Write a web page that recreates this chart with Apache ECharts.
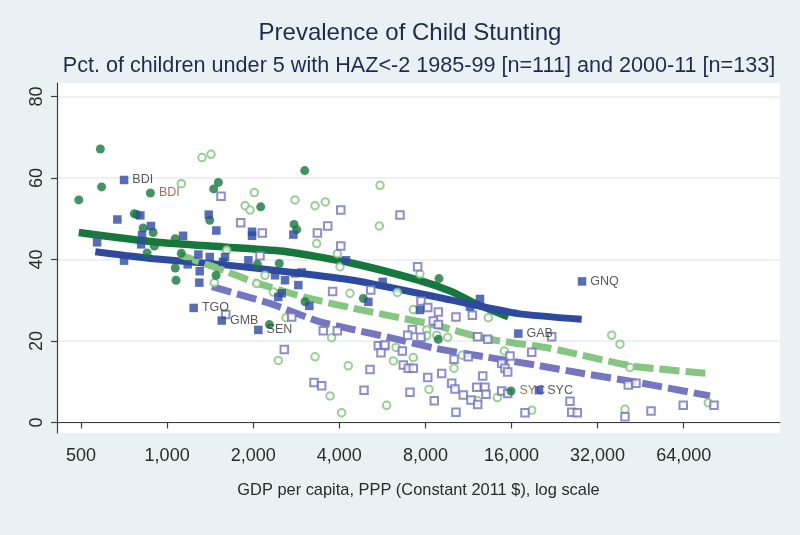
<!DOCTYPE html>
<html><head><meta charset="utf-8">
<script src="https://cdn.jsdelivr.net/npm/echarts@6/dist/echarts.min.js"></script>
<style>html,body{margin:0;padding:0;background:#eaf1f5}#c{width:800px;height:535px}</style>
</head><body><div id="c"></div>
<script>
const xTicks = [500,1000,2000,4000,8000,16000,32000,64000];
const yTicks = [0,20,40,60,80];

// Sub-Saharan Africa 1985-99 (filled dark green circles): [gdp, pct, label]
const ssa1985 = [[584,67.1],[590,57.8],[491,54.6],[874,56.3,'BDI'],[1511,58.9],[1455,57.3],[768,51.2],[784,51.0],[824,47.7],[893,46.6],[902,43.3],[851,41.6],[1068,45.1],[1121,41.5],[1068,37.9],[1074,34.9],[1409,49.6],[1483,36.1],[3027,61.8],[2124,52.9],[2778,48.6],[2838,47.3],[2467,39.0],[2277,24.0],[3035,29.6],[4854,30.4],[2068,38.8],[8926,35.3],[8875,20.4],[15935,7.7,'SYC']];

// Sub-Saharan Africa 2000-11 (filled dark blue squares)
const ssa2000 = [[707,59.5,'BDI'],[670,49.8],[569,44.2],[707,39.7],[806,50.8],[878,48.2],[817,46.0],[811,43.7],[1137,45.8],[1286,41.2],[1409,40.6],[1180,38.8],[1300,37.1],[1296,34.3],[1398,51.0],[1486,47.1],[1238,28.1,'TGO'],[1552,25.0,'GMB'],[1568,39.4],[1981,46.8],[1981,45.8],[2763,46.1],[1594,40.6],[1923,39.8],[2384,36.1],[2584,34.9],[2876,33.7],[2800,36.6],[2955,36.8],[2447,30.8],[2516,31.7],[3142,28.6],[4222,39.8],[2084,22.7,'SEN'],[5053,29.6],[5672,34.5],[7659,27.6],[11457,28.4],[12417,30.3],[16902,21.8,'GAB'],[19963,7.9,'SYC'],[28229,34.6,'GNQ']];

// Other countries 1985-99 (hollow light green circles)
const other1985 = [[1324,65.0],[1424,65.8],[1121,58.6],[2018,56.4],[1873,53.2],[1949,52.1],[2800,54.6],[3290,53.2],[3573,54.1],[5553,58.2],[5521,48.2],[3333,43.9],[3937,41.4],[4022,38.2],[4359,31.7],[3761,20.8],[2447,15.2],[3290,16.1],[4299,13.9],[3712,6.5],[4075,2.4],[5854,4.2],[2604,25.7],[2352,32.0],[2199,36.1],[2056,34.1],[1616,42.3],[7659,36.4],[7256,27.7],[6381,31.9],[8083,22.7],[8083,21.3],[8761,21.4],[9573,20.9],[6313,18.4],[7256,15.9],[6178,15.1],[10072,13.3],[8236,8.1],[13276,25.7],[15100,17.5],[14270,6.1],[12186,5.3],[18830,3.0],[10768,16.5],[35850,21.4],[38320,19.2],[41530,13.5],[39900,3.2],[78030,4.8],[1462,34.3]];

// Other countries 2000-11 (hollow purple squares)
const other2000 = [[1543,55.5],[1808,49.0],[2152,46.5],[3352,46.5],[3643,48.2],[4047,52.1],[4047,43.3],[3790,32.1],[5152,32.5],[2112,40.9],[2727,25.9],[3516,22.5],[3937,22.5],[2568,17.9],[3263,9.8],[3470,9.0],[5123,13.0],[4881,7.9],[5476,18.8],[5733,18.8],[5594,17.1],[1603,26.5],[6520,50.9],[7516,38.2],[7722,29.8],[8152,28.2],[8880,27.1],[10233,25.9],[11673,26.3],[8527,24.9],[8880,24.0],[7200,22.8],[6936,21.4],[7722,20.9],[5780,19.0],[6643,17.5],[6695,14.1],[6970,13.3],[7256,13.3],[10072,15.5],[11300,16.1],[12186,21.0],[13212,20.4],[8152,11.0],[9120,12.0],[12690,11.4],[9884,9.6],[10152,8.2],[10853,6.7],[12092,8.6],[12925,8.6],[13031,6.9],[11551,5.5],[12186,4.4],[7067,7.4],[8594,5.3],[10233,2.5],[14785,7.7],[15518,7.1],[14785,14.5],[15184,13.3],[15518,12.4],[18830,17.2],[15808,16.3],[17839,2.4],[22114,21.0],[40985,9.2],[43600,9.6],[25626,5.2],[25980,2.5],[27175,2.4],[39900,1.4],[49200,2.8],[63780,4.2],[81700,4.2]];

// Fitted (lowess) curves
const fitSsa1985 = [[491,46.6],[922,44.2],[1620,43.0],[2619,41.9],[4477,39.0],[7559,34.9],[9884,32.1],[11926,29.2],[15597,25.9]];
const fitSsa2000 = [[561,41.9],[922,40.1],[1620,38.6],[2619,37.0],[4477,34.9],[9884,30.0],[16900,26.7],[28150,25.3]];
const fitOther1985 = [[1110,41.1],[1620,37.0],[2002,34.5],[2994,30.8],[4477,28.0],[8640,23.9],[12925,20.6],[21810,18.2],[42670,13.8],[79100,12.0]];
const fitOther2000 = [[1435,33.3],[2289,29.2],[3425,24.7],[5860,21.0],[8640,18.2],[12925,16.1],[19330,14.1],[28520,12.0],[42670,10.0],[79100,6.5]];

const FONT = 'Liberation Sans, Arial, sans-serif';
const C = {dg:'#17783d', db:'#2d4a9f', lg:'#7fc27c', pu:'#7272bd'};

function pts(arr, labelColor){
  return arr.map(p => {
    const d = {value:[p[0], p[1]]};
    if (p[2]) d.label = {show:true, formatter:p[2], position:'right', distance:4,
      color:labelColor, fontSize:12.5, fontFamily:FONT};
    return d;
  });
}
function fit(arr, color, dashed, w){
  return {type:'line', data:arr, showSymbol:false, smooth:0.2, z:1, silent:true,
    lineStyle:{color:color, width:w, type: dashed ? [20,6] : 'solid', cap:'butt', join:'round'}};
}

const chart = echarts.init(document.getElementById('c'), null, {renderer:'canvas'});
chart.setOption({
  animation:false,
  backgroundColor:'#eaf1f5',
  title:[
    {text:'Prevalence of Child Stunting', left:405, top:16, textAlign:'center',
     textStyle:{fontSize:24, fontWeight:'normal', color:'#1f2b4d', fontFamily:FONT}},
    {text:'Pct. of children under 5 with HAZ<-2 1985-99 [n=111] and 2000-11 [n=133]', left:414, top:50, textAlign:'center',
     textStyle:{fontSize:21.6, fontWeight:'normal', color:'#1f2b4d', fontFamily:FONT}}
  ],
  grid:{left:57, top:83, width:723, height:350, show:true, backgroundColor:'#ffffff', borderWidth:0},
  xAxis:{type:'log', logBase:2, min:412, max:139000,
    axisLine:{show:true, lineStyle:{color:'#3c3c3c', width:1.2}},
    axisTick:{show:true, length:6, customValues:xTicks, lineStyle:{color:'#3c3c3c', width:1.2}},
    axisLabel:{customValues:xTicks, formatter:v => Number(v).toLocaleString('en-US'), fontSize:18, color:'#2a2a2a', margin:14, fontFamily:FONT},
    splitLine:{show:false}, minorTick:{show:false},
    name:'GDP per capita, PPP (Constant 2011 $), log scale', nameLocation:'middle', nameGap:49,
    nameTextStyle:{fontSize:16.4, color:'#2a2a2a', fontFamily:FONT}},
  yAxis:{type:'value', min:-2.6, max:83.3,
    axisLine:{show:true, lineStyle:{color:'#3c3c3c', width:1.2}},
    axisTick:{show:true, length:6, customValues:yTicks, lineStyle:{color:'#3c3c3c', width:1.2}},
    axisLabel:{customValues:yTicks, rotate:90, fontSize:18, color:'#2a2a2a', margin:11, fontFamily:FONT},
    splitLine:{show:true, lineStyle:{color:'#e7ecef', width:1.6}}},
  series:[
    fit(fitSsa1985, C.dg, false, 7.5),
    fit(fitSsa2000, C.db, false, 7),
    fit(fitOther1985, '#86c683', true, 7),
    fit(fitOther2000, '#7575c0', true, 7),
    {type:'scatter', data:pts(other1985), symbol:'circle', symbolSize:7.5, z:2, silent:true,
      itemStyle:{color:'#ffffff', borderColor:C.lg, borderWidth:2}},
    {type:'scatter', data:pts(other2000), symbol:'rect', symbolSize:7.5, z:2, silent:true,
      itemStyle:{color:'#ffffff', borderColor:C.pu, borderWidth:2}},
    {type:'scatter', data:pts(ssa1985, '#8a4a2c'), symbol:'circle', symbolSize:9, z:3, silent:true,
      itemStyle:{color:C.dg}},
    {type:'scatter', data:pts(ssa2000, '#2e2e2e'), symbol:'rect', symbolSize:8.5, z:4, silent:true,
      itemStyle:{color:C.db}}
  ]
});
</script></body></html>
